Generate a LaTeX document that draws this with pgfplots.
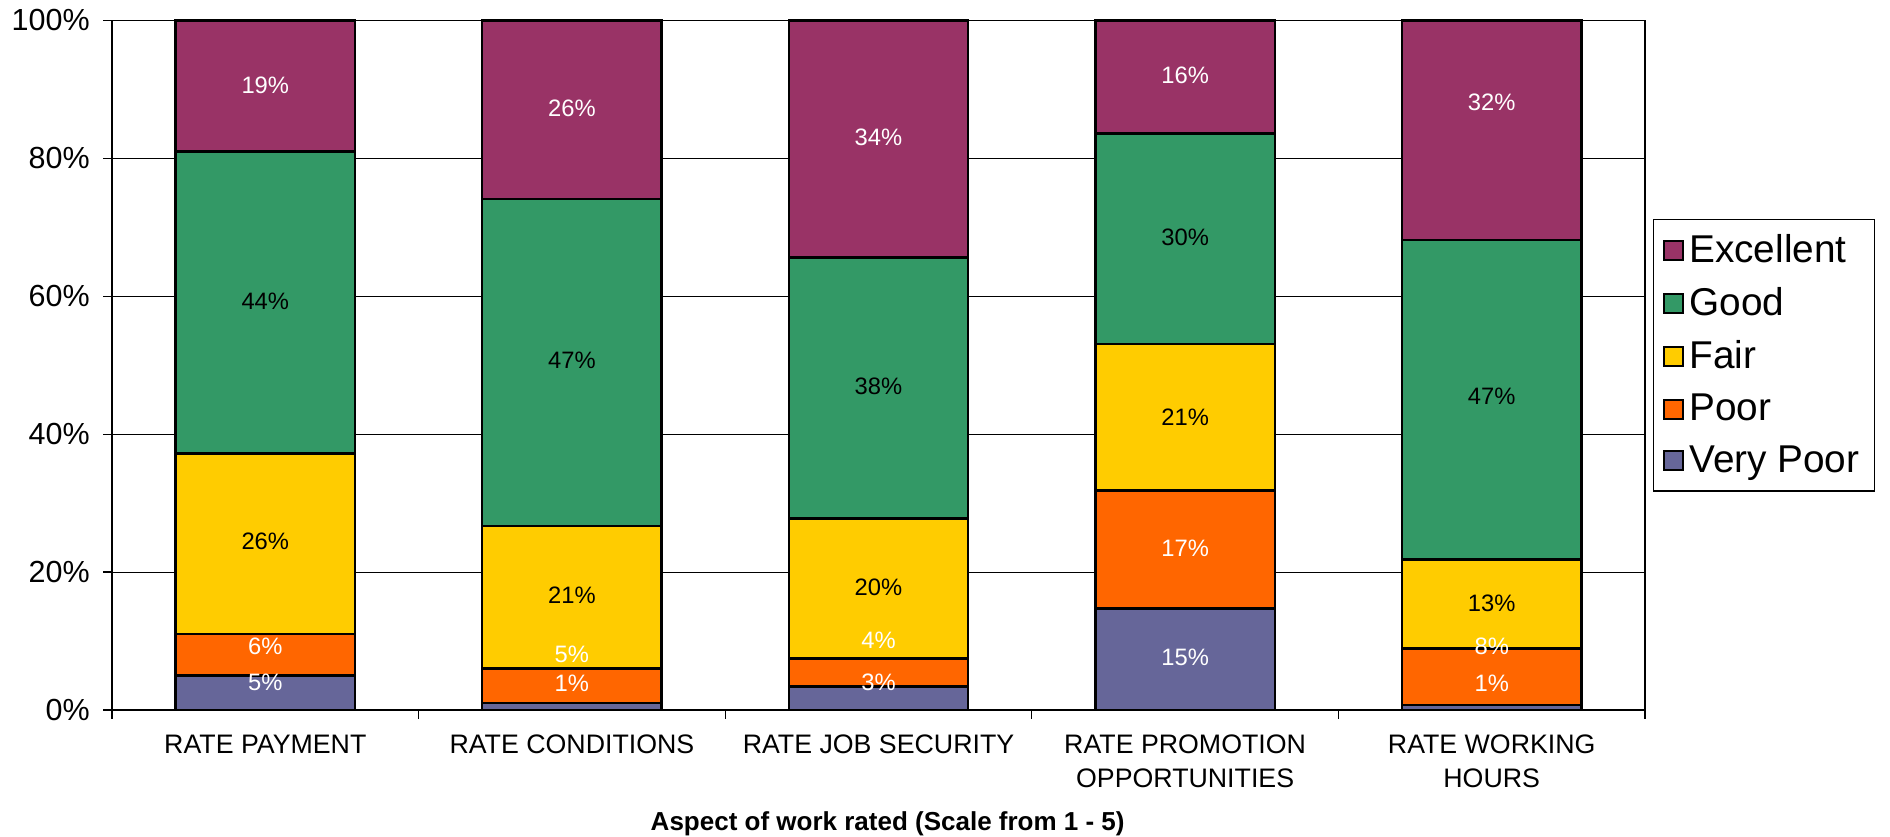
\documentclass[border=0pt]{standalone}
\usepackage{pgfplots}
\usepackage{pgfplotstable}
\pgfplotsset{compat=1.18}
\usepackage{fontspec}
\setmainfont{Liberation Sans}
\definecolor{cEx}{HTML}{993366}
\definecolor{cGood}{HTML}{339966}
\definecolor{cFair}{HTML}{FFCC00}
\definecolor{cPoor}{HTML}{FF6600}
\definecolor{cVP}{HTML}{666699}
% label positions (x, y in %, shown value)
\pgfplotstableread{
x y v
0 4.0 5
0 9.3 6
0 90.6 19
1 3.9 1
1 8.0 5
1 87.2 26
2 4.0 3
2 10.1 4
2 83.0 34
3 7.7 15
3 23.4 17
3 92.0 16
4 3.9 1
4 9.2 8
4 88.1 32
}\labW
\pgfplotstableread{
x y v
0 24.5 26
0 59.3 44
1 16.7 21
1 50.7 47
2 17.8 20
2 46.9 38
3 42.5 21
3 68.5 30
4 15.5 13
4 45.5 47
}\labB
\begin{document}
\begin{tikzpicture}
\begin{axis}[name=ax, scale only axis, width=613.2pt, height=275.8pt,
  ybar stacked, bar width=0.585,
  xmin=-0.5, xmax=4.5, ymin=0, ymax=100,
  clip=false,
  axis line style={black, line width=0.5pt},
  tick align=outside, tick pos=left,
  major tick length=3.4pt,
  tick style={black, line width=0.5pt},
  xtick={-0.5,0.5,1.5,2.5,3.5,4.5}, xticklabels={},
  extra x ticks={0,1,2,3,4},
  extra x tick labels={RATE PAYMENT, RATE CONDITIONS, RATE JOB SECURITY, {RATE PROMOTION\\OPPORTUNITIES}, {RATE WORKING\\HOURS}},
  extra x tick style={major tick length=0pt},
  xticklabel style={align=center, font=\fontsize{10.7}{13.3}\selectfont, anchor=north, yshift=-6.5pt},
  ytick={0,20,40,60,80,100},
  yticklabels={0\%,20\%,40\%,60\%,80\%,100\%},
  yticklabel style={font=\fontsize{12.2}{14}\selectfont, xshift=-2pt},
  ymajorgrids, grid style={black, line width=0.4pt},
  xlabel={\bfseries Aspect of work rated (Scale from 1 - 5)},
  xlabel style={at={(axis description cs:0.506,0)}, anchor=center, yshift=-45.5pt, font=\fontsize{10.4}{12}\selectfont},
  every axis plot post/.append style={legend image code/.code={\draw[##1,draw=black,line width=0.8pt] (0pt,-3.8pt) rectangle (7.6pt,3.8pt);}},
  reverse legend,
  legend style={at={(axis description cs:1.005,0.712)}, anchor=north west, draw=black, line width=0.5pt,
    font=\fontsize{15.5}{17}\selectfont, row sep=4.5pt, inner xsep=4pt, inner ysep=4pt},
  legend cell align=left,
]
\addplot[fill=cVP, draw=black, line width=1pt] coordinates {(0,5.0) (1,1.0) (2,3.4) (3,14.7) (4,0.7)};
\addplot[fill=cPoor, draw=black, line width=1pt] coordinates {(0,6.0) (1,5.0) (2,4.1) (3,17.1) (4,8.2)};
\addplot[fill=cFair, draw=black, line width=1pt] coordinates {(0,26.2) (1,20.7) (2,20.3) (3,21.3) (4,12.9)};
\addplot[fill=cGood, draw=black, line width=1pt] coordinates {(0,43.8) (1,47.4) (2,37.8) (3,30.5) (4,46.4)};
\addplot[fill=cEx, draw=black, line width=1pt] coordinates {(0,19.0) (1,25.9) (2,34.4) (3,16.4) (4,31.8)};
\legend{Very Poor, Poor, Fair, Good, Excellent}
\end{axis}
\begin{axis}[scale only axis, width=613.2pt, height=275.8pt,
  xmin=-0.5, xmax=4.5, ymin=0, ymax=100, hide axis, clip=false]
\addplot[draw=none, mark=none, point meta=explicit symbolic,
  nodes near coords={\pgfplotspointmeta\%},
  every node near coord/.append style={anchor=center, text=white, inner sep=0pt, font=\fontsize{9.5}{11}\selectfont}]
  table[x=x, y=y, meta=v] {\labW};
\addplot[draw=none, mark=none, point meta=explicit symbolic,
  nodes near coords={\pgfplotspointmeta\%},
  every node near coord/.append style={anchor=center, text=black, inner sep=0pt, font=\fontsize{9.5}{11}\selectfont}]
  table[x=x, y=y, meta=v] {\labB};
\end{axis}
\pgfresetboundingbox
\path[use as bounding box] ([xshift=-44.8pt,yshift=-50.4pt]ax.south west) rectangle ([xshift=98pt,yshift=8.2pt]ax.north east);
\end{tikzpicture}
\end{document}
